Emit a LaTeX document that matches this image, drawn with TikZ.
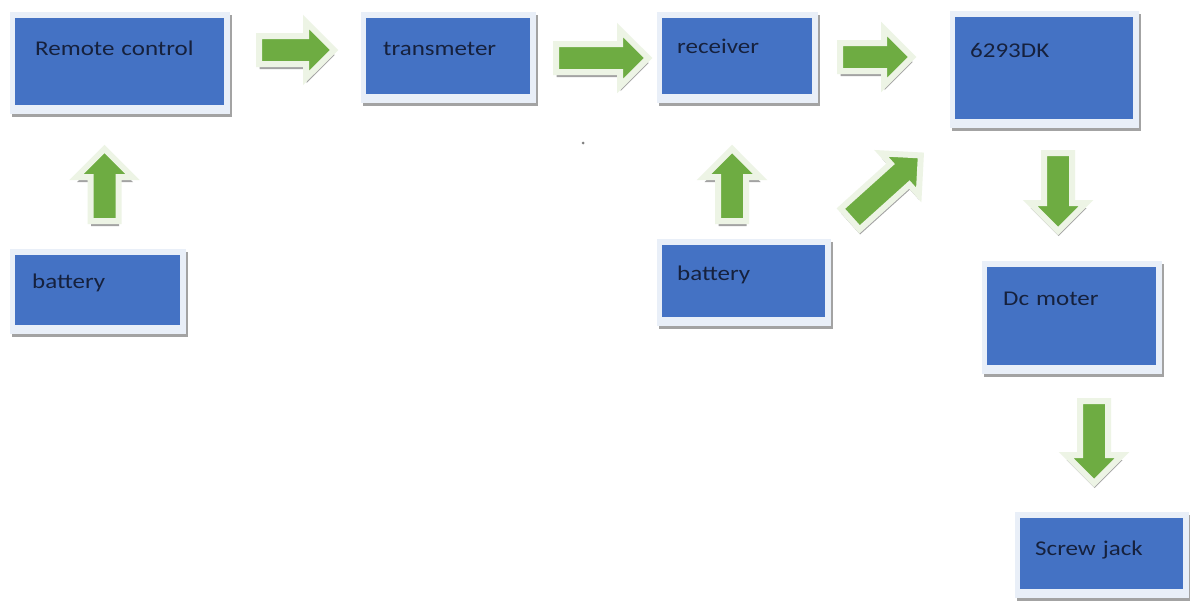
\documentclass[tikz,border=0pt]{standalone}
\usepackage{fontspec}
\newfontfamily\boxfont[FakeStretch=1.19]{Carlito}
\usetikzlibrary{shapes.arrows,shadows}
\definecolor{boxblue}{HTML}{4472C4}
\definecolor{framecol}{HTML}{E9EFF8}
\definecolor{txt}{HTML}{16213D}
\definecolor{agreen}{HTML}{6EAC42}
\definecolor{halo}{HTML}{EDF4E5}
\definecolor{shade}{HTML}{A3A3A3}
\tikzset{
  blockbox/.style={rectangle, anchor=north west, fill=framecol, inner ysep=0pt, align=left,
    font=\boxfont\fontsize{21}{24}\selectfont, text=txt,
    path picture={\fill[boxblue] ([shift={(5pt,-6pt)}]path picture bounding box.north west)
      rectangle ([shift={(-6pt,9pt)}]path picture bounding box.south east);},
    drop shadow={shadow xshift=1.5pt, shadow yshift=-3pt, fill=shade, opacity=1}},
  barrow/.style={single arrow, anchor=tail, fill=agreen, draw=halo, line width=6pt,
    inner xsep=0pt, inner ysep=11pt, single arrow head extend=14pt,
    drop shadow={shadow xshift=0.5pt, shadow yshift=-5pt, fill=shade, opacity=1}}
}
\begin{document}
\begin{tikzpicture}[x=1pt,y=-1pt]
\fill[white] (0,0) rectangle (1190,600);
\useasboundingbox (0,0) rectangle (1190,600);
% boxes
\node[blockbox, inner xsep=25pt, text width=170pt, text height=43pt, text depth=59pt] (rc) at (10,12) {Remote control};
\node[blockbox, inner xsep=22pt, text width=131pt, text height=43pt, text depth=48pt] (tx) at (361,12) {transmeter};
\node[blockbox, inner xsep=20pt, text width=121pt, text height=41pt, text depth=50pt] (rx) at (657,12) {receiver};
\node[blockbox, inner xsep=20pt, text width=149pt, text height=46pt, text depth=71pt] (ic) at (950,11) {6293DK};
\node[blockbox, inner xsep=22pt, text width=132pt, text height=39pt, text depth=46pt] (bl) at (10,249) {battery};
\node[blockbox, inner xsep=20pt, text width=134pt, text height=41pt, text depth=46pt] (br) at (657,239) {battery};
\node[blockbox, inner xsep=21pt, text width=138pt, text height=44pt, text depth=69pt] (dc) at (982,261) {Dc moter};
\node[blockbox, inner xsep=20pt, text width=134pt, text height=43pt, text depth=43pt] (sj) at (1015,512) {Screw jack};
% block arrows
\node[barrow, minimum height=75pt] (a1) at (256,50) {};
\node[barrow, minimum height=92pt] (a2) at (553,58) {};
\node[barrow, minimum height=72pt] (a3) at (837,57) {};
\node[barrow, minimum height=72pt, rotate=90] (u1) at (104.5,224) {};
\node[barrow, minimum height=72pt, rotate=90] (u2) at (732,224) {};
\node[barrow, minimum height=95pt, rotate=42] (dg) at (848,221) {};
\node[barrow, minimum height=78pt, rotate=-90] (v1) at (1058,150) {};
\node[barrow, minimum height=82pt, rotate=-90] (v2) at (1094,398) {};
% stray dot
\fill[gray] (583,143) circle (1.5pt);
\end{tikzpicture}
\end{document}
